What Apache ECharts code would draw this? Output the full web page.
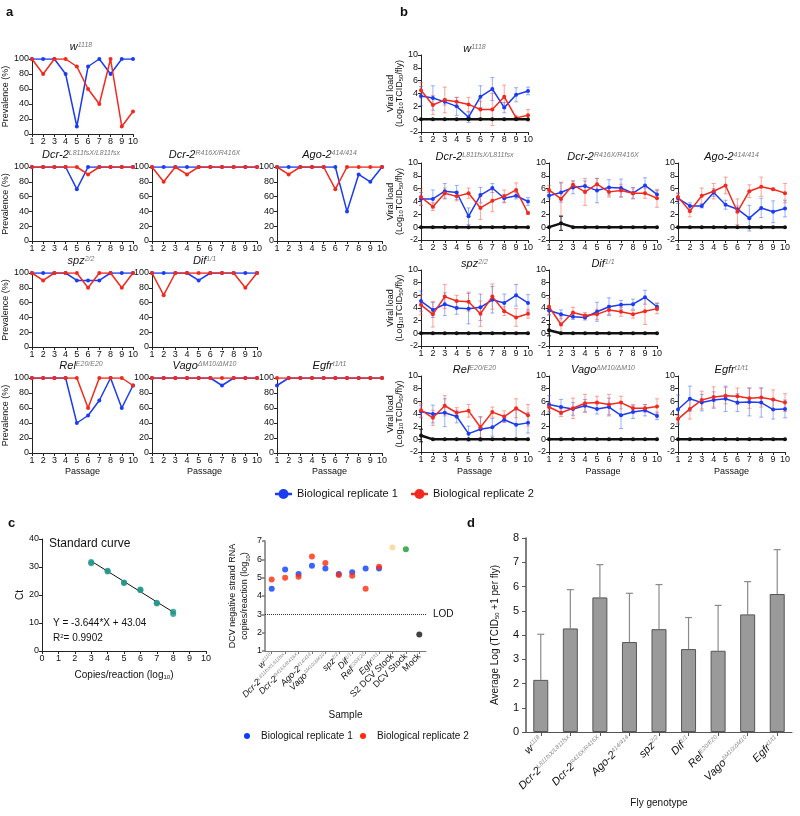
<!DOCTYPE html>
<html><head><meta charset="utf-8">
<script src="https://cdn.jsdelivr.net/npm/echarts@6/dist/echarts.min.js"></script>
<style>html,body{margin:0;padding:0;background:#fff}#c{width:800px;height:816px}</style>
</head><body><div id="c"></div><script>
// ---------------- DATA ----------------
const passages = [1,2,3,4,5,6,7,8,9,10];
const genoNames = ['w','Dcr-2','Dcr-2','Ago-2','spz','Dif','Rel','Vago','Egfr'];
const genoSups  = ['1118','L811fsX/L811fsx','R416X/R416X','414/414','2/2','1/1','E20/E20','ΔM10/ΔM10','t1/t1'];

// panel a: prevalence (%)
const prev_w1118_rep1 = [100,100,100,80,10,90,100,80,100,100];
const prev_w1118_rep2 = [100,80,100,100,90,60,40,100,10,30];
const prev_dcr2L_rep1 = [100,100,100,100,70,100,100,100,100,100];
const prev_dcr2L_rep2 = [100,100,100,100,100,90,100,100,100,100];
const prev_dcr2R_rep1 = [100,100,100,100,100,100,100,100,100,100];
const prev_dcr2R_rep2 = [100,80,100,90,100,100,100,100,100,100];
const prev_ago2_rep1 = [100,100,100,100,100,100,40,90,80,100];
const prev_ago2_rep2 = [100,90,100,100,100,70,100,100,100,100];
const prev_spz_rep1 = [100,100,100,100,90,90,90,100,100,100];
const prev_spz_rep2 = [100,90,100,100,100,80,100,100,80,100];
const prev_dif_rep1 = [100,100,100,100,90,100,100,100,100,100];
const prev_dif_rep2 = [100,70,100,100,100,100,100,100,80,100];
const prev_rel_rep1 = [100,100,100,100,40,50,70,100,60,90];
const prev_rel_rep2 = [100,100,100,100,100,60,100,100,100,90];
const prev_vago_rep1 = [100,100,100,100,100,100,90,100,100,100];
const prev_vago_rep2 = [100,100,100,100,100,100,100,100,100,100];
const prev_egfr_rep1 = [90,100,100,100,100,100,100,100,100,100];
const prev_egfr_rep2 = [100,100,100,100,100,100,100,100,100,100];

// panel b: viral load mean and error (log10 TCID50/fly)
const vl_w1118_rep1 = [3.6,3.3,2.7,2.0,0.3,3.5,4.7,1.8,3.8,4.4];
const er_w1118_rep1 = [1.5,1.9,0.5,1.4,0.8,1.7,1.8,0.8,1.1,0.6];
const vl_w1118_rep2 = [4.5,2.2,3.0,2.7,2.3,1.5,1.5,3.5,0.2,0.6];
const er_w1118_rep2 = [1.2,1.5,2.0,0.7,1.1,1.3,2.5,1.8,0.4,0.9];
const vl_w1118_mock = [0,0,0,0,0,0,0,0,0,0];
const er_w1118_mock = [0,0,0,0,0,0,0,0,0,0];

const vl_dcr2L_rep1 = [4.4,4.4,5.6,5.4,1.7,5.0,6.1,4.5,4.9,4.0];
const er_dcr2L_rep1 = [1.0,1.4,1.2,1.1,1.3,1.2,0.7,0.6,0.5,0.6];
const vl_dcr2L_rep2 = [4.7,3.2,5.3,4.8,5.3,3.0,4.1,4.8,5.8,2.2];
const er_dcr2L_rep2 = [1.3,0.6,0.8,0.7,0.8,1.8,1.7,1.0,1.1,0.2];
const vl_dcr2L_mock = [0,0,0,0,0,0,0,0,0,0];
const er_dcr2L_mock = [0,0,0,0,0,0,0,0,0,0];

const vl_dcr2R_rep1 = [4.9,5.4,6.2,6.4,5.7,6.2,6.1,5.3,6.5,5.1];
const er_dcr2R_rep1 = [0.5,1.5,1.0,0.8,1.9,1.2,1.4,0.9,1.2,0.6];
const vl_dcr2R_rep2 = [5.8,4.4,6.6,5.5,6.7,5.5,5.7,5.3,5.3,4.5];
const er_dcr2R_rep2 = [0.7,2.6,0.6,2.1,0.9,0.8,1.0,0.8,0.8,1.4];
const vl_dcr2R_mock = [0,0.6,0,0,0,0,0,0,0,0];
const er_dcr2R_mock = [0,1.1,0,0,0,0,0,0,0,0];

const vl_ago2_rep1 = [4.5,3.3,3.3,5.4,3.5,2.8,1.4,3.0,2.4,2.9];
const er_ago2_rep1 = [0.8,0.5,0.3,0.6,0.7,0.5,2.0,1.5,1.7,1.3];
const vl_ago2_rep2 = [4.7,2.5,4.9,5.6,6.5,2.4,5.6,6.3,5.9,5.3];
const er_ago2_rep2 = [0.6,0.9,1.2,1.2,1.3,2.0,1.0,1.5,0.2,1.5];
const vl_ago2_mock = [0,0,0,0,0,0,0,0,0,0];
const er_ago2_mock = [0,0,0,0,0,0,0,0,0,0];

const vl_spz_rep1 = [5.1,3.7,4.6,4.0,3.9,4.1,5.3,4.8,6.0,4.8];
const er_spz_rep1 = [1.6,1.2,1.8,1.0,2.4,2.1,2.1,1.4,1.7,1.3];
const vl_spz_rep2 = [4.5,3.0,5.8,5.1,5.0,3.1,5.8,3.5,2.5,3.1];
const er_spz_rep2 = [1.6,2.0,1.9,0.9,1.5,2.0,2.0,0.7,1.4,0.7];
const vl_spz_mock = [0,0,0,0,0,0,0,0,0,0];
const er_spz_mock = [0,0,0,0,0,0,0,0,0,0];

const vl_dif_rep1 = [3.6,3.0,2.6,2.5,3.4,4.2,4.5,4.6,5.7,4.2];
const er_dif_rep1 = [0.7,0.7,0.4,0.4,1.5,1.4,0.7,0.8,1.1,0.6];
const vl_dif_rep2 = [4.2,1.4,3.3,2.8,3.0,3.7,3.4,3.0,3.5,3.9];
const er_dif_rep2 = [1.3,1.3,0.8,0.5,0.8,0.7,0.7,0.6,2.1,0.8];
const vl_dif_mock = [0.5,0,0,0,0,0,0,0,0,0];
const er_dif_mock = [0.9,0,0,0,0,0,0,0,0,0];

const vl_rel_rep1 = [4.4,4.0,4.2,3.6,0.9,1.6,1.9,3.1,2.3,2.6];
const er_rel_rep1 = [1.0,1.4,2.2,1.0,1.2,1.9,1.4,0.4,2.3,1.6];
const vl_rel_rep2 = [4.6,3.4,5.3,4.2,4.5,1.9,4.3,3.6,4.9,3.8];
const er_rel_rep2 = [1.1,1.2,1.6,0.8,1.0,1.7,0.8,0.9,1.5,1.7];
const vl_rel_mock = [0.6,0,0,0,0,0,0,0,0,0];
const er_rel_mock = [1.0,0,0,0,0,0,0,0,0,0];

const vl_vago_rep1 = [5.5,5.1,4.8,5.3,4.8,5.1,3.8,4.3,4.6,3.7];
const er_vago_rep1 = [1.4,1.2,1.0,1.0,0.8,1.4,2.1,1.0,0.9,0.6];
const vl_vago_rep2 = [5.1,4.2,4.9,5.7,5.8,5.5,5.8,4.9,4.9,5.2];
const er_vago_rep2 = [0.7,0.6,1.6,1.4,1.0,1.6,1.0,0.6,0.6,1.2];
const vl_vago_mock = [0,0,0,0,0,0,0,0,0,0];
const er_vago_mock = [0,0,0,0,0,0,0,0,0,0];

const vl_egfr_rep1 = [4.7,6.4,5.8,6.2,6.4,5.8,5.9,5.8,4.7,4.8];
const er_egfr_rep1 = [2.3,2.0,1.3,1.3,2.0,1.4,2.2,2.3,1.5,1.4];
const vl_egfr_rep2 = [3.2,4.8,6.2,6.7,6.9,6.8,6.5,6.6,6.3,5.8];
const er_egfr_rep2 = [0.6,1.6,1.4,1.6,1.3,1.3,1.6,1.5,1.5,1.4];
const vl_egfr_mock = [0,0,0,0,0,0,0,0,0,0];
const er_egfr_mock = [0,0,0,0,0,0,0,0,0,0];

// panel c (left): standard curve
const stdCopies = [3,3,4,4,5,5,6,6,7,7,8,8];
const stdCt     = [31.3,31.8,28.7,28.4,24.5,24.3,22.0,21.7,17.2,17.0,13.2,14.0];
const fitCopies = [3,8];
const fitCt     = [32.11,13.89];

// panel c (right): negative strand RNA
const sampleNames = ['w','Dcr-2','Dcr-2','Ago-2','Vago','spz','Dif','Rel','Egfr','S2 DCV Stock','DCV Stock','Mock'];
const sampleSups  = ['1118','L811fsX/L811fsx','R416X/R416X','414/414','ΔM10/ΔM10','2/2','1/1','E20/E20','t1/t1','','',''];
const negRep1  = [4.4,5.45,5.2,5.65,5.5,5.2,5.3,5.5,5.5,null,null,null];
const negRep2  = [4.9,5.0,5.05,6.15,5.8,5.15,5.1,4.4,5.6,null,null,null];
const negS2Stock  = [null,null,null,null,null,null,null,null,null,6.65,null,null];
const negDcvStock = [null,null,null,null,null,null,null,null,null,null,6.55,null];
const negMock     = [null,null,null,null,null,null,null,null,null,null,null,1.9];
const lodValue = 3;

// panel d: average log(TCID50+1)
const avgLog = [2.15,4.27,5.55,3.71,4.24,3.42,3.35,4.85,5.69];
const avgSD  = [1.88,1.60,1.35,2.01,1.84,1.30,1.87,1.35,1.83];

// ---------------- BUILD ----------------
const FONT = '"Liberation Sans", Arial, Helvetica, sans-serif';
const BLUE = '#1c3cf2', RED = '#f2291c';
const BLUE_E = 'rgba(70,110,255,0.55)', RED_E = 'rgba(255,90,70,0.55)';

const prevR1 = [prev_w1118_rep1,prev_dcr2L_rep1,prev_dcr2R_rep1,prev_ago2_rep1,prev_spz_rep1,prev_dif_rep1,prev_rel_rep1,prev_vago_rep1,prev_egfr_rep1];
const prevR2 = [prev_w1118_rep2,prev_dcr2L_rep2,prev_dcr2R_rep2,prev_ago2_rep2,prev_spz_rep2,prev_dif_rep2,prev_rel_rep2,prev_vago_rep2,prev_egfr_rep2];
const vlR1 = [vl_w1118_rep1,vl_dcr2L_rep1,vl_dcr2R_rep1,vl_ago2_rep1,vl_spz_rep1,vl_dif_rep1,vl_rel_rep1,vl_vago_rep1,vl_egfr_rep1];
const erR1 = [er_w1118_rep1,er_dcr2L_rep1,er_dcr2R_rep1,er_ago2_rep1,er_spz_rep1,er_dif_rep1,er_rel_rep1,er_vago_rep1,er_egfr_rep1];
const vlR2 = [vl_w1118_rep2,vl_dcr2L_rep2,vl_dcr2R_rep2,vl_ago2_rep2,vl_spz_rep2,vl_dif_rep2,vl_rel_rep2,vl_vago_rep2,vl_egfr_rep2];
const erR2 = [er_w1118_rep2,er_dcr2L_rep2,er_dcr2R_rep2,er_ago2_rep2,er_spz_rep2,er_dif_rep2,er_rel_rep2,er_vago_rep2,er_egfr_rep2];
const vlM = [vl_w1118_mock,vl_dcr2L_mock,vl_dcr2R_mock,vl_ago2_mock,vl_spz_mock,vl_dif_mock,vl_rel_mock,vl_vago_mock,vl_egfr_mock];
const erM = [er_w1118_mock,er_dcr2L_mock,er_dcr2R_mock,er_ago2_mock,er_spz_mock,er_dif_mock,er_rel_mock,er_vago_mock,er_egfr_mock];

const placement = [[0,0],[1,0],[1,1],[1,2],[2,0],[2,1],[3,0],[3,1],[3,2]]; // [row,col]
const aCols=[[29,133],[152,257],[277,382]];
const aRows=[[59,134],[167,241],[273,347],[378,453]];
const bCols=[[421,528],[549,657],[678,785]];
const bRows=[[55,132],[163,240],[270,346],[376,452]];

const grids=[], xAxes=[], yAxes=[], series=[], graphics=[];
function addGrid(l,t,r,b){ grids.push({left:l, top:t, width:r-l, height:b-t}); return grids.length-1; }
function axis(extra, labelSize, lineColor, lineWidth){
  const c = lineColor || '#222';
  return Object.assign({
    axisLine:{show:true, onZero:false, lineStyle:{color:c, width:lineWidth||1}},
    axisTick:{show:true, length:3, lineStyle:{color:c, width:lineWidth||1}},
    axisLabel:{fontSize:labelSize||9, color:'#111', margin:3, fontFamily:FONT},
    splitLine:{show:false},
    nameTextStyle:{fontSize:9, color:'#111', fontFamily:FONT,
      rich:{sub:{fontSize:6, verticalAlign:'bottom', fontFamily:FONT, color:'#111'}, sup:{fontSize:6, verticalAlign:'top', fontFamily:FONT, color:'#111'}}}
  }, extra);
}
const richI = {
  i:{fontSize:11, fontStyle:'italic', fontFamily:FONT, fill:'#111'},
  s:{fontSize:7, fontStyle:'italic', fontFamily:FONT, fill:'#777', verticalAlign:'top'}
};
function titleText(x, y, gi){
  return {type:'text', x:x, y:y, style:{text:'{i|'+genoNames[gi]+'}{s|'+genoSups[gi]+'}', rich:richI, align:'center', verticalAlign:'middle'}};
}
function errRender(color, cap, width, upOnly){
  return function(params, api){
    const x=api.value(0), m=api.value(1), e=api.value(2);
    if(!e) return null;
    const top=api.coord([x,m+e]), bot=upOnly? api.coord([x,m]) : api.coord([x,m-e]);
    const st={stroke:color, lineWidth:width, fill:null};
    const ch=[{type:'line', shape:{x1:top[0],y1:top[1],x2:bot[0],y2:bot[1]}, style:st},
              {type:'line', shape:{x1:top[0]-cap,y1:top[1],x2:top[0]+cap,y2:top[1]}, style:st}];
    if(!upOnly) ch.push({type:'line', shape:{x1:bot[0]-cap,y1:bot[1],x2:bot[0]+cap,y2:bot[1]}, style:st});
    return {type:'group', children:ch};
  };
}
function lineSeries(ai, vals, color, width, z){
  return {type:'line', xAxisIndex:ai, yAxisIndex:ai, data:passages.map((p,i)=>[p,vals[i]]),
    symbol:'circle', symbolSize:4, showSymbol:true, lineStyle:{color:color, width:width}, itemStyle:{color:color}, z:z, silent:true};
}
function errSeries(ai, vals, errs, color, z){
  return {type:'custom', xAxisIndex:ai, yAxisIndex:ai, data:passages.map((p,i)=>[p,vals[i],errs[i]]),
    encode:{x:0,y:1}, renderItem:errRender(color,2,1,false), z:z, silent:true};
}

// Panel a
placement.forEach(([r,c],g)=>{
  const gi = addGrid(aCols[c][0], aRows[r][0], aCols[c][1], aRows[r][1]);
  xAxes.push(axis({gridIndex:gi, type:'value', min:1, max:10, interval:1,
    name: r===3?'Passage':'', nameLocation:'middle', nameGap:14}));
  yAxes.push(axis({gridIndex:gi, type:'value', min:0, max:100, interval:20,
    name: c===0?'Prevalence (%)':'', nameLocation:'middle', nameGap:16}));
  series.push(lineSeries(gi, prevR1[g], BLUE, 1.5, 2));
  series.push(lineSeries(gi, prevR2[g], RED, 1.5, 3));
  graphics.push(titleText((aCols[c][0]+aCols[c][1])/2, aRows[r][0]-12, g));
});
// Panel b
placement.forEach(([r,c],g)=>{
  const gi = addGrid(bCols[c][0], bRows[r][0], bCols[c][1], bRows[r][1]);
  xAxes.push(axis({gridIndex:gi, type:'value', min:1, max:10, interval:1,
    name: r===3?'Passage':'', nameLocation:'middle', nameGap:15}));
  yAxes.push(axis({gridIndex:gi, type:'value', min:-2, max:10, interval:2,
    name: c===0?'Viral load\n(Log{sub|10}TCID{sub|50}/fly)':'', nameLocation:'middle', nameGap:9}));
  series.push(errSeries(gi, vlR1[g], erR1[g], BLUE_E, 1));
  series.push(errSeries(gi, vlR2[g], erR2[g], RED_E, 1));
  series.push(errSeries(gi, vlM[g], erM[g], '#222', 1));
  series.push(lineSeries(gi, vlR1[g], BLUE, 1.5, 2));
  series.push(lineSeries(gi, vlR2[g], RED, 1.5, 3));
  series.push(lineSeries(gi, vlM[g], '#111', 2.5, 4));
  graphics.push(titleText((bCols[c][0]+bCols[c][1])/2, bRows[r][0]-6, g));
});

// Panel c left: standard curve
{
  const gi = addGrid(42, 539, 206, 651);
  xAxes.push(axis({gridIndex:gi, type:'value', min:0, max:10, interval:1,
    name:'Copies/reaction (log{sub|10})', nameLocation:'middle', nameGap:19,
    nameTextStyle:{fontSize:10, color:'#111', fontFamily:FONT, rich:{sub:{fontSize:6, verticalAlign:'bottom', fontFamily:FONT}}}}));
  yAxes.push(axis({gridIndex:gi, type:'value', min:0, max:40, interval:10,
    name:'Ct', nameLocation:'middle', nameGap:16, nameTextStyle:{fontSize:10, color:'#111', fontFamily:FONT}}));
  series.push({type:'line', xAxisIndex:gi, yAxisIndex:gi, data:fitCopies.map((x,i)=>[x,fitCt[i]]),
    showSymbol:false, lineStyle:{color:'#111', width:1}, z:2, silent:true});
  series.push({type:'scatter', xAxisIndex:gi, yAxisIndex:gi, data:stdCopies.map((x,i)=>[x,stdCt[i]]),
    symbolSize:6, itemStyle:{color:'#1f968a'}, z:3, silent:true});
}
// Panel c right
function sampleLabel(v, idx){
  return sampleSups[idx] ? '{i|'+sampleNames[idx]+'}{s|'+sampleSups[idx]+'}' : '{n|'+sampleNames[idx]+'}';
}
{
  const gi = addGrid(265, 541, 426, 651);
  xAxes.push(axis({gridIndex:gi, type:'category', data:sampleNames.map((n,i)=>n+sampleSups[i]), boundaryGap:true,
    axisTick:{show:true, alignWithLabel:true, length:3, lineStyle:{color:'#777', width:1}},
    axisLabel:{interval:0, rotate:45, margin:4, fontFamily:FONT, formatter:sampleLabel,
      rich:{i:{fontSize:9, fontStyle:'italic', fontFamily:FONT, color:'#111'},
            s:{fontSize:5, fontStyle:'italic', fontFamily:FONT, color:'#888', verticalAlign:'top'},
            n:{fontSize:9, fontFamily:FONT, color:'#111'}}},
    name:'Sample', nameLocation:'middle', nameGap:59, nameTextStyle:{fontSize:10, color:'#111', fontFamily:FONT}}, 9, '#777', 1));
  yAxes.push(axis({gridIndex:gi, type:'value', min:1, max:7, interval:1,
    name:'DCV negative strand RNA\ncopies/reaction (log{sub|10})', nameLocation:'middle', nameGap:14,
    nameTextStyle:{fontSize:9, color:'#111', fontFamily:FONT, lineHeight:12, rich:{sub:{fontSize:6, verticalAlign:'bottom', fontFamily:FONT}}}}, 9, '#777', 1.5));
  const base = {xAxisIndex:gi, yAxisIndex:gi, type:'scatter', symbolSize:6, silent:true};
  series.push(Object.assign({}, base, {data:negRep1, itemStyle:{color:'#0a3cff'}, z:3,
    markLine:{silent:true, symbol:'none', data:[{yAxis:lodValue}], lineStyle:{type:'dotted', color:'#333', width:1},
      label:{show:true, position:'end', formatter:'LOD', fontSize:10, color:'#111', fontFamily:FONT, distance:7}}}));
  series.push(Object.assign({}, base, {data:negRep2, itemStyle:{color:'#ff2a0a'}, z:4}));
  series.push(Object.assign({}, base, {data:negS2Stock, itemStyle:{color:'#f8d58e'}, z:4}));
  series.push(Object.assign({}, base, {data:negDcvStock, itemStyle:{color:'#1a9a2a'}, z:4}));
  series.push(Object.assign({}, base, {data:negMock, itemStyle:{color:'#111'}, z:4}));
}
// Panel d
{
  const gi = addGrid(526, 538, 792, 732);
  xAxes.push(axis({gridIndex:gi, type:'category', data:genoNames.map((n,i)=>n+genoSups[i]), boundaryGap:true,
    axisTick:{show:true, alignWithLabel:true, length:4, lineStyle:{color:'#555', width:1}},
    axisLabel:{interval:0, rotate:45, margin:6, fontFamily:FONT,
      formatter:(v,idx)=>'{i|'+genoNames[idx]+'}{s|'+genoSups[idx]+'}',
      rich:{i:{fontSize:11, fontStyle:'italic', fontFamily:FONT, color:'#111'},
            s:{fontSize:6, fontStyle:'italic', fontFamily:FONT, color:'#888', verticalAlign:'top'}}},
    name:'Fly genotype', nameLocation:'middle', nameGap:66, nameTextStyle:{fontSize:10, color:'#111', fontFamily:FONT}}, 10, '#555', 1));
  yAxes.push(axis({gridIndex:gi, type:'value', min:0, max:8, interval:1,
    axisLabel:{fontSize:11, color:'#111', margin:7, fontFamily:FONT},
    axisTick:{show:true, length:4, lineStyle:{color:'#555', width:1}},
    name:'Average Log (TCID{sub|50} +1 per fly)', nameLocation:'middle', nameGap:26,
    nameTextStyle:{fontSize:10, color:'#111', fontFamily:FONT, rich:{sub:{fontSize:6, verticalAlign:'bottom', fontFamily:FONT}}}}, 10, '#555', 1.5));
  series.push({type:'bar', xAxisIndex:gi, yAxisIndex:gi, data:avgLog, barWidth:15,
    itemStyle:{color:'#9a9a9a', borderColor:'#555', borderWidth:1}, z:2, silent:true});
  series.push({type:'custom', xAxisIndex:gi, yAxisIndex:gi, data:avgLog.map((v,i)=>[i,v,avgSD[i]]),
    encode:{x:0,y:1}, renderItem:errRender('#8a8a8a',3.5,1.2,true), z:1, silent:true});
}

// Texts & legends
function letter(t,x,y){ graphics.push({type:'text', x:x, y:y, style:{text:t, fontSize:13, fontWeight:'bold', fontFamily:FONT, fill:'#111', align:'left', verticalAlign:'middle'}}); }
letter('a',6,12); letter('b',400,12); letter('c',8,523); letter('d',467,523);
function txt(t,x,y,size,align){ graphics.push({type:'text', x:x, y:y, style:{text:t, fontSize:size, fontFamily:FONT, fill:'#111', align:align||'left', verticalAlign:'middle'}}); }
// middle legend
graphics.push({type:'line', shape:{x1:275,y1:494,x2:292,y2:494}, style:{stroke:BLUE, lineWidth:2.5}});
graphics.push({type:'circle', shape:{cx:283.5,cy:494,r:5}, style:{fill:BLUE}});
txt('Biological replicate 1',297,494,11);
graphics.push({type:'line', shape:{x1:411,y1:494,x2:428,y2:494}, style:{stroke:RED, lineWidth:2.5}});
graphics.push({type:'circle', shape:{cx:419.5,cy:494,r:5}, style:{fill:RED}});
txt('Biological replicate 2',433,494,11);
// c texts
txt('Standard curve',49,544,12);
txt('Y = -3.644*X + 43.04',53,623,10);
graphics.push({type:'text', x:53, y:638, style:{text:'R{s|2}= 0.9902', fontSize:10, fontFamily:FONT, fill:'#111', verticalAlign:'middle',
  rich:{s:{fontSize:6, fontFamily:FONT, fill:'#111', verticalAlign:'top'}}}});
graphics.push({type:'circle', shape:{cx:247,cy:736,r:3}, style:{fill:'#0a3cff'}});
txt('Biological replicate 1',261,736,10);
graphics.push({type:'circle', shape:{cx:363,cy:736,r:3}, style:{fill:'#ff2a0a'}});
txt('Biological replicate 2',377,736,10);

const chart = echarts.init(document.getElementById('c'), null, {renderer:'canvas'});
chart.setOption({animation:false, backgroundColor:'#fff', textStyle:{fontFamily:FONT},
  grid:grids, xAxis:xAxes, yAxis:yAxes, series:series, graphic:{elements:graphics}});
</script></body></html>
